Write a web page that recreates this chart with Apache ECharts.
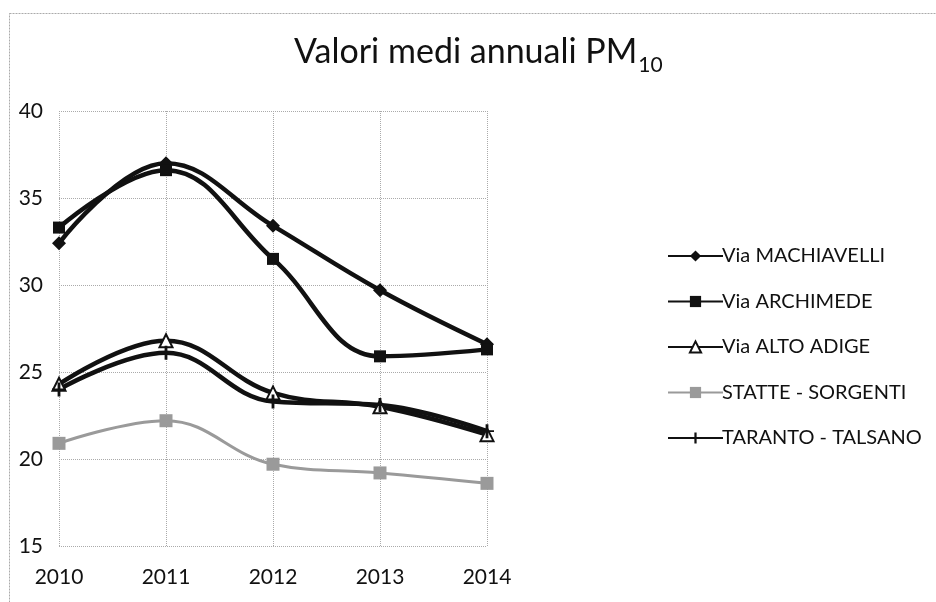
<!DOCTYPE html>
<html>
<head>
<meta charset="utf-8">
<script src="https://cdn.jsdelivr.net/npm/echarts@6/dist/echarts.min.js"></script>
<style>
html, body { margin: 0; padding: 0; background: #fff; }
#chart { width: 936px; height: 602px; }
</style>
</head>
<body>
<div id="chart"></div>
<script>
// anni
var years = ['2010', '2011', '2012', '2013', '2014'];
// valori medi annuali PM10 per stazione
var machiavelli = [32.4, 37.0, 33.4, 29.7, 26.6];
var archimede = [33.3, 36.6, 31.5, 25.9, 26.3];
var altoAdige = [24.3, 26.8, 23.8, 23.0, 21.4];
var statte = [20.9, 22.2, 19.7, 19.2, 18.6];
var talsano = [24.0, 26.1, 23.3, 23.1, 21.6];
var seriesNames = ['Via MACHIAVELLI', 'Via ARCHIMEDE', 'Via ALTO ADIGE', 'STATTE - SORGENTI', 'TARANTO - TALSANO'];
var yTicks = [15, 20, 25, 30, 35, 40];

var plusPath = 'path://M4,0h2v4.4h4v1.2h-4v4.4h-2v-4.4h-4v-1.2h4z';
var font = 'Lato';

var myChart = echarts.init(document.getElementById('chart'));

var mkSeries = function(name, data, color, symbol, size, fill, width) {
	return {
		name : name,
		type : 'line',
		data : data,
		smooth : 0.4,
		symbol : symbol,
		symbolSize : size,
		lineStyle : { color : color, width : width },
		itemStyle : { color : fill, borderColor : color, borderWidth : symbol == 'triangle' ? 2 : 0 },
		emphasis : { disabled : true },
		z : 3
	};
};

var option = {
	backgroundColor : '#fff',
	animation : false,
	title : {
		text : '{a|Valori medi annuali PM}{b|10}',
		left : 289,
		top : 30,
		textStyle : {
			fontWeight : 'normal',
			rich : {
				a : { fontFamily : font, fontSize : 34, color : '#111', verticalAlign : 'top' },
				b : { fontFamily : font, fontSize : 21, color : '#111', verticalAlign : 'top', padding : [20, 0, 0, 1] }
			}
		}
	},
	legend : {
		orient : 'vertical',
		left : 662,
		top : 241,
		itemWidth : 55,
		itemHeight : 14,
		itemGap : 25.5,
		textStyle : { fontFamily : font, fontSize : 20, color : '#111', padding : [0, 0, 0, -6] },
		data : seriesNames
	},
	grid : {
		left : 59,
		right : 449,
		top : 111,
		bottom : 56,
		containLabel : false
	},
	xAxis : {
		type : 'category',
		data : years,
		boundaryGap : false,
		axisLine : { show : false },
		axisTick : { show : false },
		axisLabel : { fontFamily : font, fontSize : 21, color : '#111', margin : 21 },
		splitLine : { show : true, lineStyle : { color : '#aaa', type : 'dotted', width : 1 } }
	},
	yAxis : {
		type : 'value',
		min : yTicks[0],
		max : yTicks[yTicks.length - 1],
		interval : 5,
		axisLine : { show : false },
		axisTick : { show : false },
		axisLabel : { fontFamily : font, fontSize : 21, color : '#111', margin : 16 },
		splitLine : { show : true, lineStyle : { color : '#aaa', type : 'dotted', width : 1 } }
	},
	graphic : [ {
		type : 'rect',
		shape : { x : 9.5, y : 13.5, width : 1000, height : 1000 },
		style : { fill : null, stroke : '#aaa', lineWidth : 1, lineDash : [2, 1] },
		silent : true
	} ],
	series : [
		mkSeries(seriesNames[0], machiavelli, '#111', 'diamond', 14, '#111', 4.5),
		mkSeries(seriesNames[1], archimede, '#111', 'rect', 12, '#111', 4.5),
		mkSeries(seriesNames[2], altoAdige, '#111', 'triangle', 13, '#fff', 4.5),
		mkSeries(seriesNames[3], statte, '#9a9a9a', 'rect', 13, '#9a9a9a', 3),
		mkSeries(seriesNames[4], talsano, '#111', plusPath, 14, '#111', 4.5)
	]
};
myChart.setOption(option);
</script>
</body>
</html>
